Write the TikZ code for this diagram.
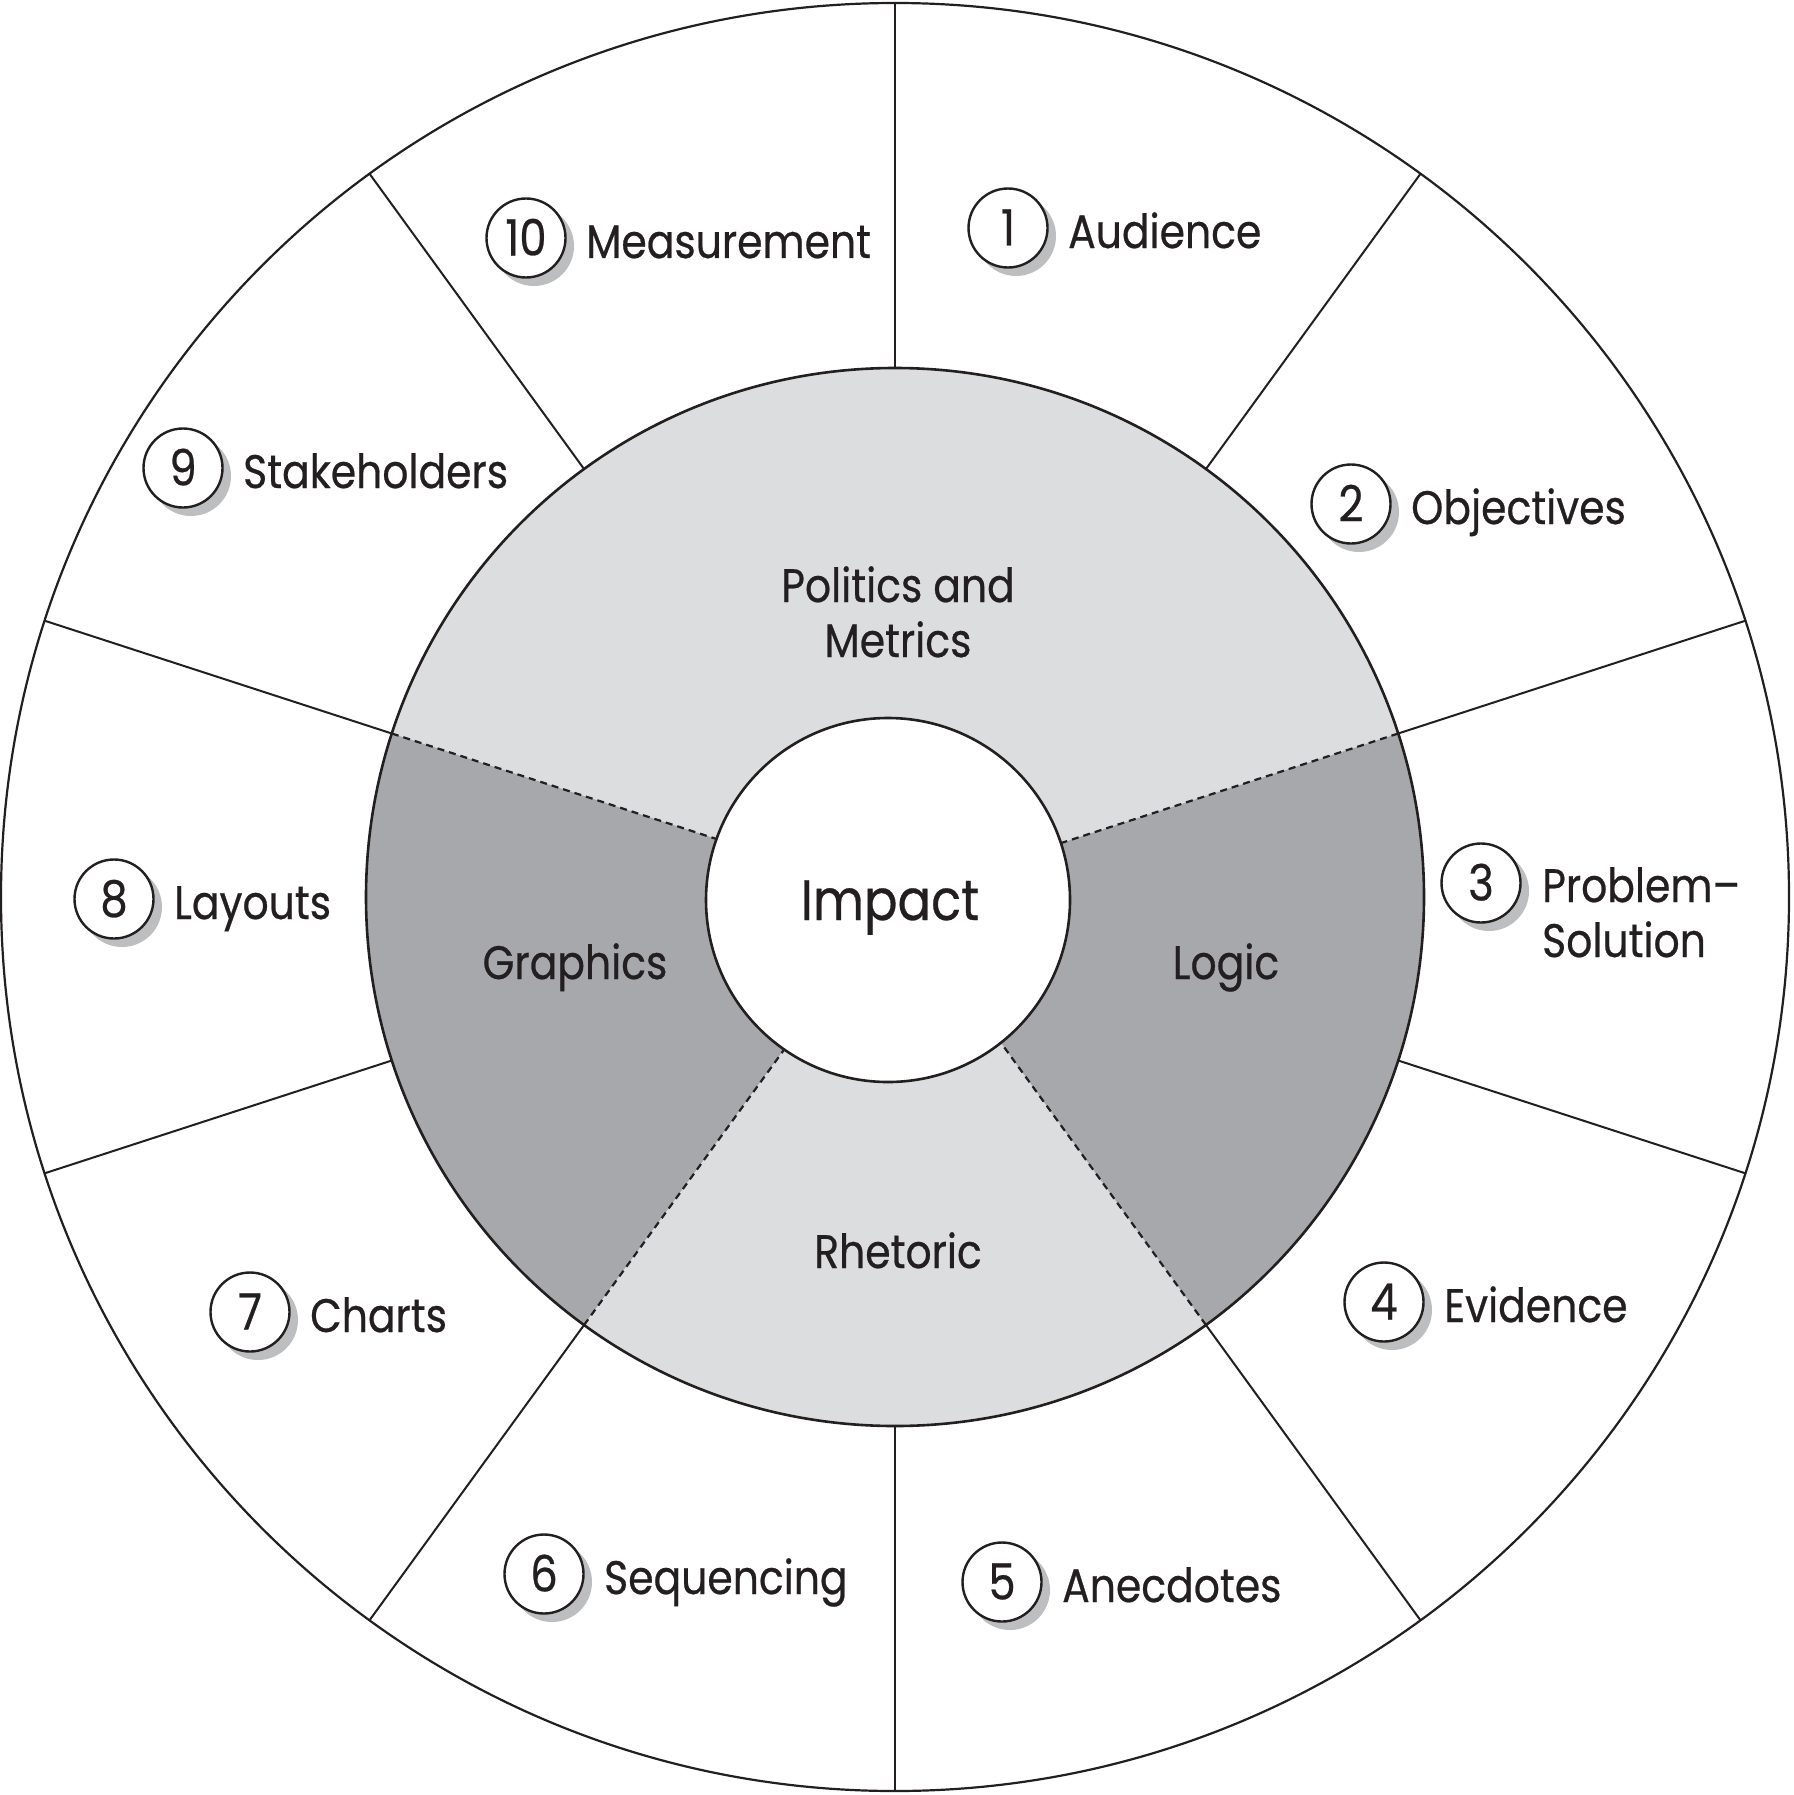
\documentclass[tikz,border=0pt]{standalone}
\usepackage{fontspec}
\setmainfont[FakeStretch=0.87,FakeBold=0.5]{Poppins}
\definecolor{lightg}{HTML}{DCDDDF}
\definecolor{darkg}{HTML}{A7A8AB}
\definecolor{shadowg}{HTML}{BCBEC0}
\definecolor{ink}{HTML}{231F20}
\tikzset{
  ring/.style={draw=ink, line width=2.2pt},
  spoke/.style={draw=ink, line width=2pt},
  divider/.style={draw=ink, line width=2.2pt, dash pattern=on 7pt off 5pt},
  numc/.style={circle, draw=ink, line width=2.4pt, fill=white, minimum size=79pt,
    inner sep=0pt, text height=35pt, text depth=0pt, text=ink,
    font=\fontsize{50}{60}\selectfont},
  numshadow/.style={fill=shadowg},
  lab/.style={anchor=base west, inner sep=0pt, text=ink, font=\fontsize{47}{56}\selectfont},
  clab/.style={anchor=base, inner sep=0pt, text=ink, font=\fontsize{47}{56}\selectfont},
}
\newcommand\numlabel[5]{%
  \fill[numshadow] (#2+8,-#3-8) circle[radius=40];
  \node[numc] (n#1) at (#2,-#3) {#4};
  \node[lab] (t#1) at (#2+60,-#3-20) {#5};
}
\begin{document}
\begin{tikzpicture}[x=1pt,y=1pt]
\useasboundingbox (0,0) rectangle (1793,-1795);
\begin{scope}[shift={(895,-897)}]
  \draw[ring, fill=white] (0,0) circle[radius=894];
  \foreach \a in {90,54,18,-18,-54,-90,-126,-162,162,126}
    \draw[spoke] (\a:529) -- (\a:894);
  \fill[lightg] (0,0) -- (18:529) arc[start angle=18, end angle=162, radius=529] -- cycle;
  \fill[darkg] (0,0) -- (162:529) arc[start angle=162, end angle=234, radius=529] -- cycle;
  \fill[lightg] (0,0) -- (234:529) arc[start angle=234, end angle=306, radius=529] -- cycle;
  \fill[darkg] (0,0) -- (306:529) arc[start angle=306, end angle=378, radius=529] -- cycle;
  \foreach \a in {18,-54,-126,162}
    \draw[divider] (\a:150) -- (\a:529);
  \draw[ring, line width=2.6pt] (0,0) circle[radius=529];
  \draw[ring, line width=2.6pt, fill=white] (-7,-3) circle[radius=182];
\end{scope}
\node[anchor=base, inner sep=0pt, text=ink, font=\fontsize{57}{66}\selectfont] (impact) at (890,-920) {Impact};
\node[clab] (pol1) at (898,-602) {Politics and};
\node[clab] (pol2) at (898,-657) {Metrics};
\node[clab] (gra) at (575,-979) {Graphics};
\node[clab] (log) at (1226,-979) {Logic};
\node[clab] (rhe) at (898,-1268) {Rhetoric};
\numlabel{1}{1008}{228}{1}{Audience}
\numlabel{2}{1351}{504}{2}{Objectives}
\fill[numshadow] (1489,-891) circle[radius=40];
\node[numc] (n3) at (1481,-883) {3};
\node[lab] (t3a) at (1542,-902) {Problem–};
\node[lab] (t3b) at (1542,-957) {Solution};
\numlabel{4}{1384}{1302}{4}{Evidence}
\numlabel{5}{1002}{1582}{5}{Anecdotes}
\numlabel{6}{544}{1574}{6}{Sequencing}
\numlabel{7}{250}{1312}{7}{Charts}
\numlabel{8}{114}{899}{8}{Layouts}
\numlabel{9}{183}{468}{9}{Stakeholders}
\numlabel{10}{526}{238}{10}{Measurement}
\end{tikzpicture}
\end{document}
